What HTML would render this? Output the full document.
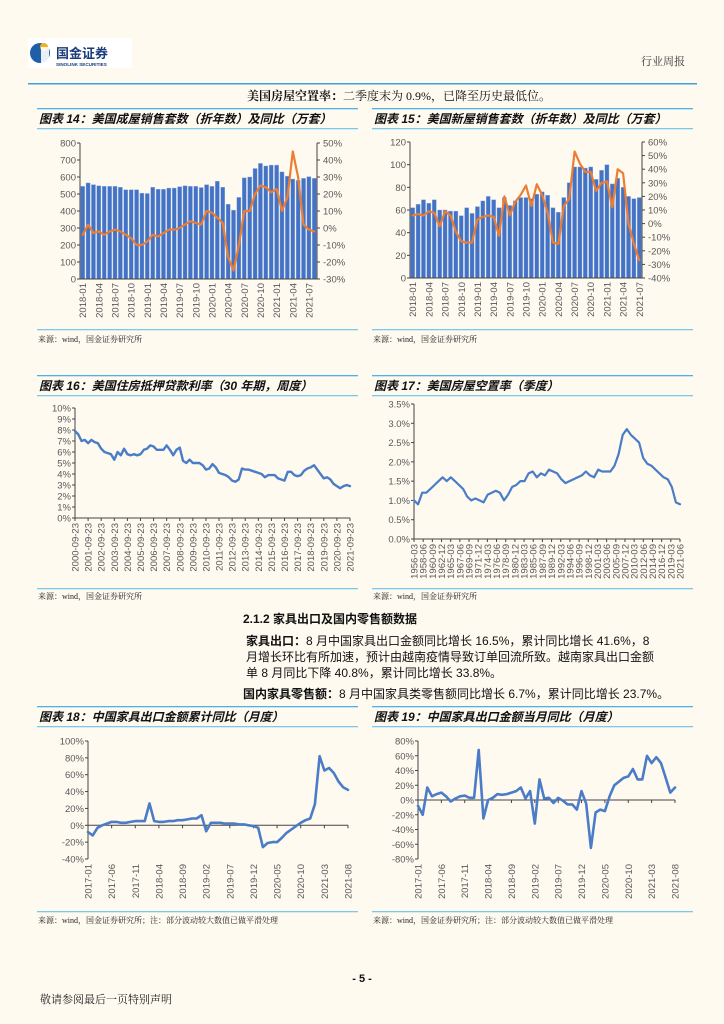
<!DOCTYPE html>
<html><head><meta charset="utf-8"><style>
html,body{margin:0;padding:0;background:#fffaf0;}
svg{display:block;font-family:"Liberation Sans","Noto Sans CJK SC",sans-serif;}
.cn{font-family:"Liberation Serif","Noto Serif CJK SC",serif;}
.tt{font-family:"Liberation Sans","Noto Sans CJK SC",sans-serif;font-weight:bold;font-style:italic;font-size:12px;fill:#111;}
.ax{font-size:9.5px;fill:#595959;}
.src{font-size:8px;fill:#222;}
</style></head><body>
<svg id="pg" width="724" height="1024" viewBox="0 0 724 1024">
<rect width="724" height="1024" fill="#fffaf0"/>
<g>
 <rect x="28" y="38" width="104" height="30" fill="#fff"/>
 <circle cx="40" cy="53" r="10" fill="#1f5fa8"/><circle cx="44" cy="47" r="4" fill="#f0b020"/><rect x="41" y="47" width="8" height="16" fill="#fff" opacity="0.9"/>
 <text x="56" y="58" font-size="13" font-weight="bold" fill="#1a3b7a">国金证券</text>
 <text x="56" y="66" font-size="4.6" font-weight="bold" fill="#1a3b7a">SINOLINK SECURITIES</text>
 <text x="641" y="65" font-size="11" fill="#333" class="cn">行业周报</text>
 <rect x="28" y="83" width="669" height="1.5" fill="#3aa3dc"/>
</g>
<text x="247" y="100" font-size="12" fill="#111" class="cn"><tspan font-weight="bold">美国房屋空置率：</tspan>二季度末为 0.9%，已降至历史最低位。</text>

<g font-size="12" fill="#111">
 <text x="243" y="623" font-weight="bold">2.1.2 家具出口及国内零售额数据</text>
 <text x="246" y="645"><tspan font-weight="bold">家具出口：</tspan>8 月中国家具出口金额同比增长 16.5%，累计同比增长 41.6%，8</text>
 <text x="246" y="661">月增长环比有所加速，预计由越南疫情导致订单回流所致。越南家具出口金额</text>
 <text x="246" y="677">单 8 月同比下降 40.8%，累计同比增长 33.8%。</text>
 <text x="243" y="698"><tspan font-weight="bold">国内家具零售额：</tspan>8 月中国家具类零售额同比增长 6.7%，累计同比增长 23.7%。</text>
</g>

<text x="362" y="982" font-size="11" font-weight="bold" text-anchor="middle" fill="#111">- 5 -</text>
<text x="40" y="1003" font-size="11" fill="#222" class="cn">敬请参阅最后一页特别声明</text>
</svg>
<script>
// ---- Chart 14 data
const c14Cats = ["2018-01","2018-04","2018-07","2018-10","2019-01","2019-04","2019-07","2019-10","2020-01","2020-04","2020-07","2020-10","2021-01","2021-04","2021-07"];
const c14Bars = [545,565,555,548,545,545,545,540,525,525,525,505,503,540,528,528,535,535,543,548,545,545,538,555,545,575,540,440,405,480,595,600,650,680,665,670,670,630,605,588,580,592,602,592];
const c14Yoy = [-4,2,-3,-2,-4,-2,-1,-2,-4,-6,-10,-10,-8,-4,-5,-3,-1,-1,0,2,4,3,2,10,9,6,3,-17,-25,-10,10,10,20,25,24,21,23,10,18,45,30,2,-1,-2];
const c14LTicks = ["0","100","200","300","400","500","600","700","800"];
const c14RTicks = ["-30%","-20%","-10%","0%","10%","20%","30%","40%","50%"];
// ---- Chart 15 data
const c15Cats = ["2018-01","2018-04","2018-07","2018-10","2019-01","2019-04","2019-07","2019-10","2020-01","2020-04","2020-07","2020-10","2021-01","2021-04","2021-07"];
const c15Bars = [62,65,69,66,69,60,60,59,59,55,62,57,63,68,72,69,62,71,64,68,71,71,70,74,76,73,62,58,71,84,98,98,97,98,87,95,100,83,88,80,72,70,71];
const c15Yoy = [6,7,6,9,8,-2,9,6,-6,-13,-14,-14,3,5,6,5,-9,20,6,16,21,28,13,29,21,8,-14,-15,13,18,53,44,38,38,24,30,31,12,40,37,0,-15,-27];
const c15LTicks = ["0","20","40","60","80","100","120"];
const c15RTicks = ["-40%","-30%","-20%","-10%","0%","10%","20%","30%","40%","50%","60%"];
// ---- Chart 16 data (quarterly samples of weekly series)
const c16Cats = ["2000-09-23","2001-09-23","2002-09-23","2003-09-23","2004-09-23","2005-09-23","2006-09-23","2007-09-23","2008-09-23","2009-09-23","2010-09-23","2011-09-23","2012-09-23","2013-09-23","2014-09-23","2015-09-23","2016-09-23","2017-09-23","2018-09-23","2019-09-23","2020-09-23","2021-09-23"];
const c16Vals = [7.9,7.6,7.0,7.1,6.8,7.1,6.9,6.8,6.3,6.0,5.9,5.8,5.3,6.0,5.7,6.3,5.8,5.7,5.8,5.7,5.8,6.2,6.3,6.6,6.5,6.2,6.2,6.2,6.6,6.2,5.7,6.2,6.4,5.2,5.0,5.3,5.0,5.0,5.0,4.8,4.4,4.5,4.9,4.6,4.1,4.0,3.9,3.7,3.4,3.3,3.5,4.5,4.4,4.4,4.3,4.2,4.1,4.0,3.7,3.9,3.9,3.9,3.6,3.5,3.4,4.2,4.2,3.9,3.8,3.9,4.3,4.5,4.6,4.8,4.4,4.0,3.6,3.7,3.5,3.1,2.9,2.7,2.9,3.0,2.9];
const c16Ticks = ["0%","1%","2%","3%","4%","5%","6%","7%","8%","9%","10%"];
// ---- Chart 17 data (yearly samples 1956..2021)
const c17Cats = ["1956-03","1958-06","1960-09","1962-12","1965-03","1967-06","1969-09","1971-12","1974-03","1976-06","1978-09","1980-12","1983-03","1985-06","1987-09","1989-12","1992-03","1994-06","1996-09","1998-12","2001-03","2003-06","2005-09","2007-12","2010-03","2012-06","2014-09","2016-12","2019-03","2021-06"];
const c17Vals = [1.0,0.9,1.2,1.2,1.3,1.4,1.5,1.6,1.5,1.6,1.5,1.4,1.3,1.1,1.0,1.05,1.0,0.95,1.15,1.2,1.25,1.2,1.0,1.15,1.35,1.4,1.5,1.5,1.7,1.75,1.6,1.7,1.65,1.8,1.75,1.7,1.55,1.45,1.5,1.55,1.6,1.65,1.75,1.65,1.6,1.8,1.75,1.75,1.75,1.9,2.2,2.7,2.85,2.7,2.6,2.5,2.1,1.95,1.9,1.8,1.7,1.6,1.55,1.35,0.95,0.9];
const c17Ticks = ["0.0%","0.5%","1.0%","1.5%","2.0%","2.5%","3.0%","3.5%"];
// ---- Chart 18 data
const c18Cats = ["2017-01","2017-06","2017-11","2018-04","2018-09","2019-02","2019-07","2019-12","2020-05","2020-10","2021-03","2021-08"];
const c18Vals = [-8,-12,-3,0,2,4,4,3,3,4,5,5,5,26,5,4,4,5,5,6,6,7,8,8,12,-7,3,3,3,2,2,2,1,1,0,-1,-3,-26,-21,-20,-20,-15,-9,-5,-1,3,6,8,25,82,65,68,62,52,45,42];
const c18Ticks = ["-40%","-20%","0%","20%","40%","60%","80%","100%"];
// ---- Chart 19 data
const c19Cats = ["2017-01","2017-06","2017-11","2018-04","2018-09","2019-02","2019-07","2019-12","2020-05","2020-10","2021-03","2021-08"];
const c19Vals = [-8,-20,17,5,8,10,5,-2,2,5,6,3,3,68,-25,0,3,8,7,8,10,12,17,2,12,-32,28,2,3,-4,3,-1,-6,-6,-13,12,-5,-65,-17,-13,-15,5,20,25,30,32,42,28,28,60,50,58,50,30,10,17];
const c19Ticks = ["-80%","-60%","-40%","-20%","0%","20%","40%","60%","80%"];

const NS="http://www.w3.org/2000/svg";
const pg=document.getElementById('pg');
function el(tag,attrs,parent,txt){const e=document.createElementNS(NS,tag);for(const k in attrs)e.setAttribute(k,attrs[k]);if(txt!==undefined)e.textContent=txt;(parent||pg).appendChild(e);return e;}

function panel(x0,x1,yTop,title,src,yUnder,ySrc,name){
  const g=el('g',{});
  
  
  const l1=el('rect',{x:x0,y:yTop,width:x1-x0,height:1.3,fill:'#4db3e6'},g);
  
  
  const t=el('text',{x:x0+2,y:yTop+15,class:'tt'},g,title);
  
  
  const l2=el('rect',{x:x0,y:yTop+20,width:x1-x0,height:1.3,fill:'#7cc8ea'},g);
  
  
  const l3=el('rect',{x:x0,y:yUnder,width:x1-x0,height:1.3,fill:'#7cc8ea'},g);
  
  
  const s=el('text',{x:x0+1,y:ySrc,class:'src cn'},g,src);
  
  
  return g;
}

function yAxis(g,x,yBot,yTopP,ticks,side){
  const n=ticks.length-1;
  const ln=el('line',{x1:x,y1:yTopP,x2:x,y2:yBot,stroke:'#444','stroke-width':1},g);
  
  
  ticks.forEach((t,i)=>{
    const y=yBot-(yBot-yTopP)*i/n;
    el('line',{x1:side==='r'?x:x-3,y1:y,x2:side==='r'?x+3:x,y2:y,stroke:'#444'},g);
    const tx=el('text',{x:side==='r'?x+6:x-4,y:y+3.5,class:'ax','text-anchor':side==='r'?'start':'end'},g,t);
    
    
  });
}
function xLabels(g,labels,xs,y,fs){
  labels.forEach((t,i)=>{
    const tx=el('text',{x:0,y:0,class:'ax','text-anchor':'end','font-size':fs||9.5,transform:`translate(${xs(i)+3.5},${y}) rotate(-90)`},g,t);
    
    
  });
}
function lineChart(g,vals,xs,ys,color,w){
  const d=vals.map((v,i)=>(i?'L':'M')+xs(i).toFixed(1)+','+ys(v).toFixed(1)).join(' ');
  const p=el('path',{d:d,fill:'none',stroke:color,'stroke-width':w,'stroke-linejoin':'round','stroke-linecap':'round'},g);
  
  
}

function barCombo(g,cfg){
  const {xL,xR,yB,yT,bars,yoy,lT,rT,lMax,rMin,rMax,cats}=cfg;
  const n=bars.length, step=(xR-xL)/n;
  const ysL=v=>yB-(yB-yT)*v/lMax;
  const ysR=v=>yB-(yB-yT)*(v-rMin)/(rMax-rMin);
  const xc=i=>xL+step*(i+0.5);
  bars.forEach((v,i)=>{
    const r=el('rect',{x:xc(i)-step*0.38,y:ysL(v),width:step*0.76,height:yB-ysL(v),fill:'#4472c4',stroke:'#8fb0e6','stroke-width':0.4},g);
    
    
  });
  yAxis(g,xL,yB,yT,lT,'l');
  yAxis(g,xR,yB,yT,rT,'r');
  el('line',{x1:xL,y1:yB,x2:xR,y2:yB,stroke:'#444'},g);
  lineChart(g,yoy,xc,ysR,'#ed7d31',2.2);
  xLabels(g,cats,i=>xc(i*3),yB+4);
}

// Chart 14
let g=panel(37,358,108,'图表 14：美国成屋销售套数（折年数）及同比（万套）','来源：wind，国金证券研究所',329,342,'chart-14-existing-home-sales');
barCombo(g,{xL:80,xR:317,yB:279,yT:143,bars:c14Bars,yoy:c14Yoy,lT:c14LTicks,rT:c14RTicks,lMax:800,rMin:-30,rMax:50,cats:c14Cats});
// Chart 15
g=panel(372,693,108,'图表 15：美国新屋销售套数（折年数）及同比（万套）','来源：wind，国金证券研究所',329,342,'chart-15-new-home-sales');
barCombo(g,{xL:410,xR:642,yB:278,yT:142,bars:c15Bars,yoy:c15Yoy,lT:c15LTicks,rT:c15RTicks,lMax:120,rMin:-40,rMax:60,cats:c15Cats});

function simpleLine(g,cfg){
  const {xL,xR,yB,yT,vals,ticks,vMin,vMax,cats,zeroAxis,nCatSlots,lw,fs}=cfg;
  const ys=v=>yB-(yB-yT)*(v-vMin)/(vMax-vMin);
  const xs=i=>xL+(xR-xL)*i/(vals.length-1);
  yAxis(g,xL,yB,yT,ticks,'l');
  const ay=zeroAxis?ys(0):yB;
  el('line',{x1:xL,y1:ay,x2:xR,y2:ay,stroke:'#444'},g);
  const xc=i=>xL+(xR-xL)*i/(cats.length-1);
  cats.forEach((c,i)=>el('line',{x1:xc(i),y1:ay,x2:xc(i),y2:ay+3,stroke:'#444'},g));
  lineChart(g,vals,xs,ys,'#4a7cc7',lw);
  xLabels(g,cats,xc,yB+5,fs);
}
// Chart 16
g=panel(37,358,375,'图表 16：美国住房抵押贷款利率（30 年期，周度）','来源：wind，国金证券研究所',588,599,'chart-16-mortgage-rate');
simpleLine(g,{xL:75,xR:350,yB:518,yT:408,vals:c16Vals,ticks:c16Ticks,vMin:0,vMax:10,cats:c16Cats,lw:2.4,fs:9});
// Chart 17
g=panel(372,693,375,'图表 17：美国房屋空置率（季度）','来源：wind，国金证券研究所',588,599,'chart-17-vacancy-rate');
simpleLine(g,{xL:414,xR:680,yB:539,yT:404,vals:c17Vals,ticks:c17Ticks,vMin:0,vMax:3.5,cats:c17Cats,lw:2.2,fs:7});
// Chart 18
g=panel(37,358,706,'图表 18：中国家具出口金额累计同比（月度）','来源：wind，国金证券研究所；注：部分波动较大数值已做平滑处理',911,923,'chart-18-furniture-export-cumulative');
simpleLine(g,{xL:88,xR:348,yB:859,yT:741,vals:c18Vals,ticks:c18Ticks,vMin:-40,vMax:100,cats:c18Cats,zeroAxis:true,lw:2.6,fs:9.5});
// Chart 19
g=panel(372,693,706,'图表 19：中国家具出口金额当月同比（月度）','来源：wind，国金证券研究所；注：部分波动较大数值已做平滑处理',911,923,'chart-19-furniture-export-monthly');
simpleLine(g,{xL:418,xR:675,yB:859,yT:741,vals:c19Vals,ticks:c19Ticks,vMin:-80,vMax:80,cats:c19Cats,zeroAxis:true,lw:2.6,fs:9.5});
</script>
</body></html>
